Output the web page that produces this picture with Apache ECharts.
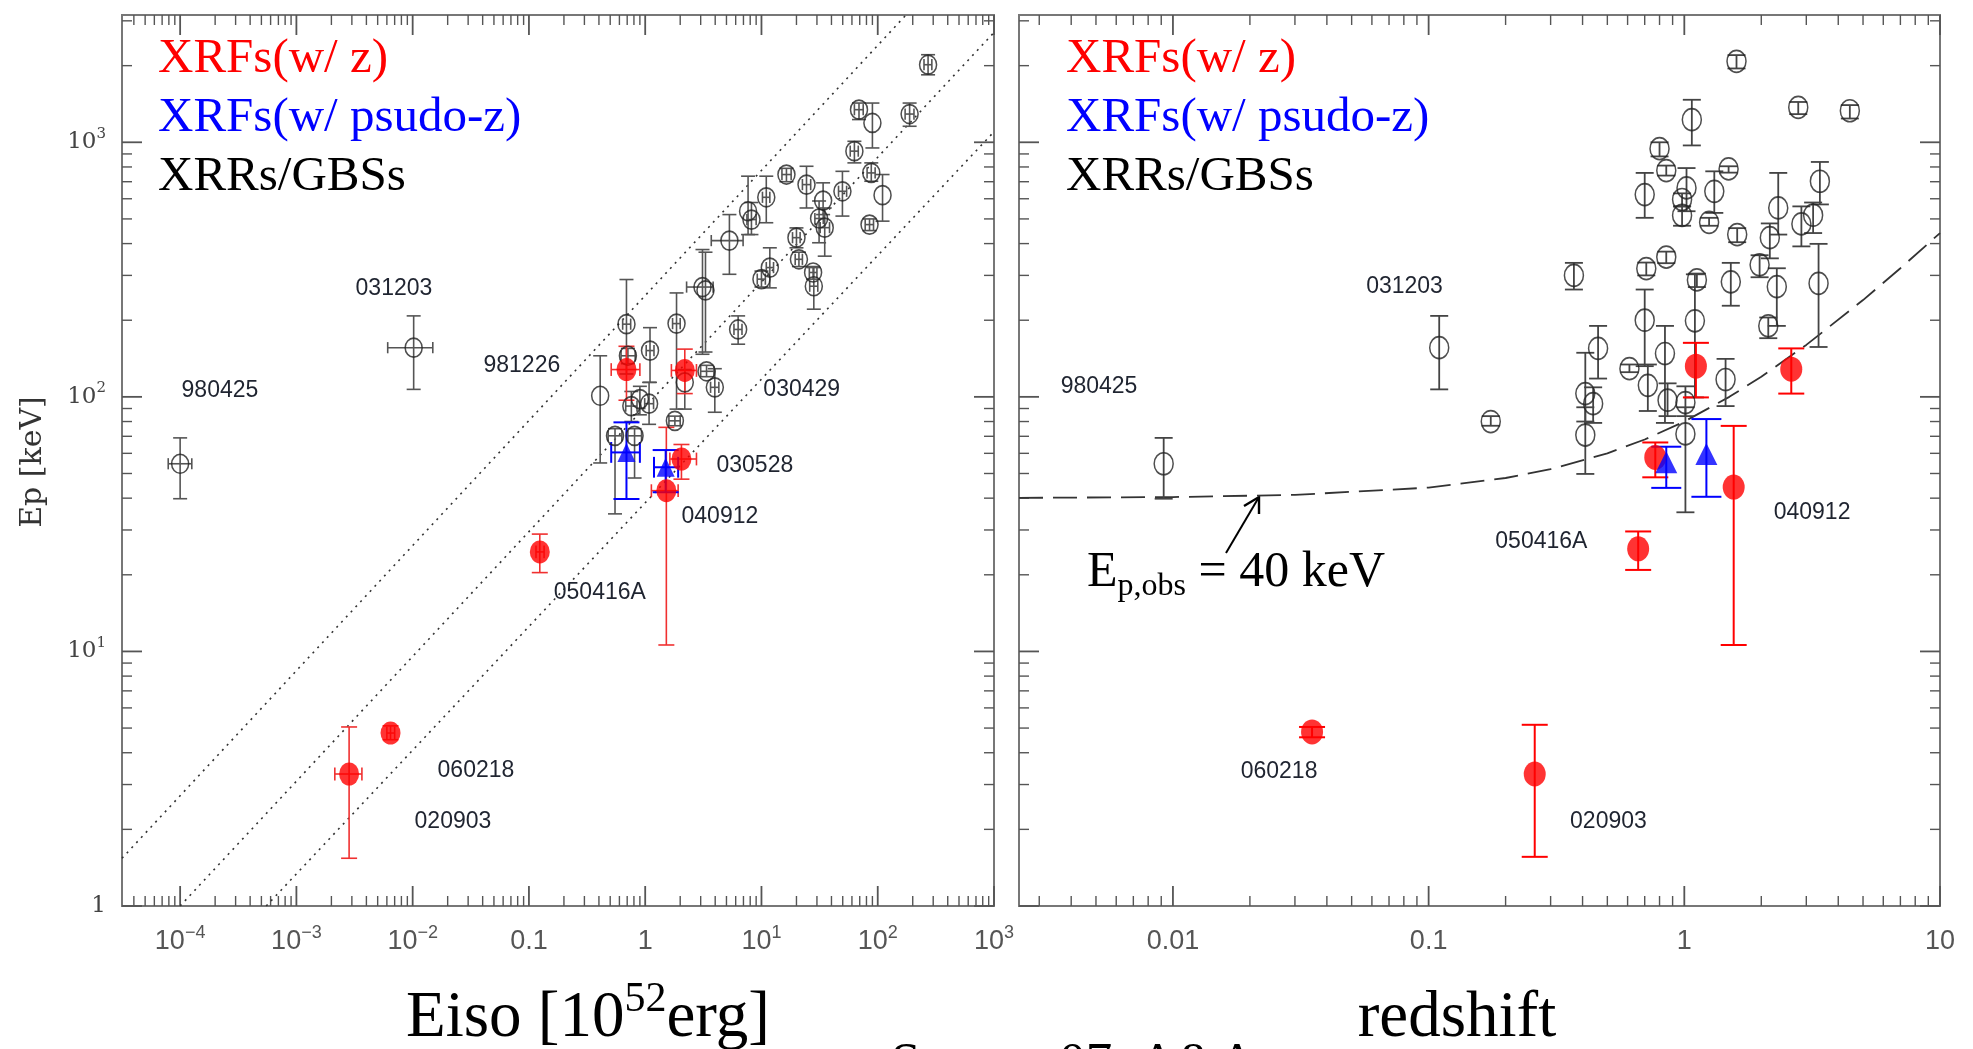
<!DOCTYPE html>
<html>
<head>
<meta charset="utf-8">
<title>Ep - Eiso / redshift</title>
<script src="https://cdn.jsdelivr.net/npm/echarts@6/dist/echarts.min.js"></script>
<style>
  html, body { margin: 0; padding: 0; background: #fff; }
  #main { width: 1973px; height: 1049px; }
</style>
</head>
<body>
<div id="main"></div>
<script>
// axis ranges
const EISO_MIN = Math.pow(10, -4.5), EISO_MAX = 1000
const Z_MIN = 0.0025, Z_MAX = 10
const EP_MIN = 1, EP_MAX = Math.pow(10, 3.5)

// tick values and their labels ('a^b' = superscript)
const eisoTicks = [1e-4, 1e-3, 1e-2, 0.1, 1, 10, 100, 1000]
const eisoTickLabels = ['10^−4', '10^−3', '10^−2', '0.1', '1', '10^1', '10^2', '10^3']
const zTicks = [0.01, 0.1, 1, 10]
const zTickLabels = ['0.01', '0.1', '1', '10']
const epTicks = [1, 10, 100, 1000]
const epTickLabels = ['1', '10^1', '10^2', '10^3']

// left panel: [Eiso, Ep, Ep low, Ep high, Eiso low, Eiso high]
const xrfEiso = [
  [0.69, 128, 97, 158, 0.51, 0.90],
  [2.19, 127, 103, 154, 1.68, 2.76],
  [2.05, 57, 47.5, 65, 1.63, 2.76],
  [1.52, 42.8, 10.6, 75.9, 1.13, 1.92],
  [0.124, 24.6, 20.4, 28.9, 0.115, 0.135],
  [0.00645, 4.78, 4.5, 5.1, 0.0060, 0.0070],
  [0.00284, 3.30, 1.54, 5.05, 0.00214, 0.00366]
]
const xrfPseudoEiso = [
  [0.69, 60.5, 39.7, 79.4, 0.51, 0.90],
  [1.50, 52.9, 42.2, 61.8, 1.19, 1.92]
]
const xrrEiso = [
  [1.0e-4, 54.6, 39.8, 69, 0.79e-4, 1.26e-4],
  [0.0102, 156, 107, 208, 0.0061, 0.0149],
  [271, 2017, 1841, 2208, 250, 292],
  [69, 1343, 1228, 1426, 63, 75],
  [90, 1191, 950, 1426, null, null],
  [188, 1291, 1156, 1426, 172, 205],
  [63, 923, 830, 1009, 58, 68],
  [88, 758, 703, 830, 81, 95],
  [16.4, 747, 700, 790, 15, 18],
  [24.4, 682, 552, 805, 22.5, 26.5],
  [49.7, 642, 513, 769, 46, 54],
  [110, 620, 490, 747, null, null],
  [11, 608, 483, 736, 10.2, 11.8],
  [33.9, 590, 520, 693, null, null],
  [31.3, 502, 403, 588, 28.8, 34],
  [35, 462, 357, 552, 32, 38.5],
  [7.67, 536, 434, 736, null, null],
  [8.2, 497, 434, 580, 7.5, 9],
  [85, 475, 450, 500, 78, 92],
  [20, 422, 385, 461, 18.5, 21.5],
  [5.3, 411, 303, 520, 3.7, 6.95],
  [11.8, 322, 268, 385, 11, 12.7],
  [10, 290, 270, 312, 9.2, 10.8],
  [21, 347, 325, 370, 19.5, 22.5],
  [27.8, 308, 290, 325, 25.8, 30],
  [28.2, 272, 221, 322, 26, 30.5],
  [3.11, 270, 147, 379, 2.27, 3.84],
  [3.3, 262, 150, 370, null, null],
  [6.3, 184, 161, 208, 5.8, 6.8],
  [1.86, 194, 89.5, 256, 1.72, 2.0],
  [0.69, 193, 123, 289, 0.64, 0.75],
  [1.10, 152, 114, 187, 1.02, 1.19],
  [0.71, 145, 135, 155, 0.62, 0.82],
  [3.37, 126, 120, 133, 3.0, 3.9],
  [3.97, 109, 87, 129, 3.65, 4.3],
  [2.19, 114, 89.5, 128, null, null],
  [0.41, 101, 55, 145, null, null],
  [0.76, 92, 80, 105, 0.68, 0.85],
  [1.08, 94, 78, 114, 0.99, 1.18],
  [0.9, 98, 85, 110, null, null],
  [1.80, 80.5, 77, 84, 1.6, 2.0],
  [0.55, 70.3, 34.7, 75, 0.48, 0.63],
  [0.81, 70.3, 48, 75, 0.71, 0.93]
]

// right panel: [z, Ep, Ep low, Ep high]
const xrfZ = [
  [1.11, 132, 99.5, 163],
  [2.62, 128.5, 103, 155],
  [0.77, 57.8, 48.3, 66.2],
  [1.56, 44.2, 10.6, 76.9],
  [0.66, 25.3, 20.9, 29.6],
  [0.035, 4.83, 4.6, 5.05],
  [0.26, 3.30, 1.56, 5.15]
]
const xrfPseudoZ = [
  [0.85, 55.3, 43.9, 63.7],
  [1.22, 59.6, 40.5, 81.8]
]
const xrrZ = [
  [0.0092, 54.6, 39.8, 69],
  [0.11, 156, 107, 208],
  [0.175, 80, 77, 84],
  [1.60, 2080, 1950, 2200],
  [1.07, 1227, 972, 1469],
  [2.79, 1371, 1290, 1440],
  [4.44, 1330, 1240, 1400],
  [0.80, 944, 880, 1000],
  [0.85, 774, 740, 810],
  [1.02, 662, 536, 792],
  [1.31, 642, 528, 769],
  [1.49, 786, 760, 805],
  [0.70, 623, 505, 758],
  [0.98, 596, 560, 630],
  [0.98, 516, 470, 560],
  [1.25, 485, 470, 505],
  [1.61, 434, 405, 460],
  [2.33, 552, 434, 758],
  [3.39, 703, 570, 837],
  [2.87, 478, 390, 560],
  [3.19, 517, 440, 580],
  [2.16, 422, 350, 480],
  [1.97, 330, 295, 360],
  [2.30, 271, 190, 320],
  [3.35, 279, 157, 399],
  [2.13, 190, 170, 205],
  [1.52, 283, 228, 336],
  [1.12, 288, 270, 305],
  [0.85, 354, 335, 372],
  [0.71, 319, 300, 337],
  [0.37, 300, 264, 336],
  [0.70, 200, 132, 264],
  [1.10, 199, 99.5, 303],
  [0.84, 148, 79, 190],
  [0.46, 155, 118, 190],
  [0.61, 129, 125, 134],
  [0.72, 111, 88, 134],
  [1.45, 117, 92, 141],
  [0.86, 97, 84, 113],
  [1.01, 95, 84, 110],
  [0.41, 103, 80, 149],
  [0.44, 94, 79, 109],
  [0.41, 70.8, 49.8, 91],
  [1.01, 71.5, 35.2, 91]
]

// dotted Ep-Eiso bands (end points)
const bandUpper = [[EISO_MIN, 1.54], [175, EP_MAX]]
const bandMiddle = [[1.0e-4, 1], [1000, 2700]]
const bandLower = [[5.5e-4, 1], [1000, 1100]]

// Ep,obs = 40 keV curve
const limitZ = [0.0025, 0.01, 0.03, 0.1, 0.2, 0.3, 0.5, 0.7, 1, 1.5, 2, 3, 5, 7, 10]
const limitEp = [40.1, 40.4, 41.2, 44, 48, 52, 60, 68, 80, 100, 120, 160, 240, 320, 440]

// burst names and where they sit
const leftNames = ['980425', '031203', '981226', '030429', '030528', '040912', '050416A', '060218', '020903']
const leftNamePos = [[2.2e-4, 106], [0.0069, 267], [0.0869, 133], [22.2, 107], [8.77, 53.6], [4.39, 33.8], [0.407, 17.0], [0.035, 3.41], [0.0222, 2.14]]
const rightNames = ['980425', '031203', '050416A', '040912', '060218', '020903']
const rightNamePos = [[0.00514, 110], [0.0805, 270], [0.276, 27], [3.16, 35.1], [0.026, 3.38], [0.505, 2.15]]

const pad = rows => rows.map(r => [r[0], r[1], r[2], r[3], r[4] ?? null, r[5] ?? null])
const xy = rows => rows.map(r => [r[0], r[1]])

function richLabel(s) {
  const i = s.indexOf('^')
  return i < 0 ? '{m|' + s + '}' : '{m|' + s.slice(0, i) + '}{s|' + s.slice(i + 1) + '}'
}

function errorBars(capHalf, color, width) {
  return function (params, api) {
    const x = api.value(0), y = api.value(1)
    const c = api.coord([x, y])
    const st = { stroke: color, lineWidth: width, fill: null }
    const kids = []
    const seg = (x1, y1, x2, y2) => kids.push({ type: 'line', shape: { x1, y1, x2, y2 }, style: st })
    const lo = api.value(2), hi = api.value(3)
    if (isFinite(lo) && isFinite(hi)) {
      const pLo = api.coord([x, lo]), pHi = api.coord([x, hi])
      seg(c[0], pLo[1], c[0], pHi[1])
      seg(c[0] - capHalf, pLo[1], c[0] + capHalf, pLo[1])
      seg(c[0] - capHalf, pHi[1], c[0] + capHalf, pHi[1])
    }
    const xl = api.value(4), xh = api.value(5)
    if (isFinite(xl) && isFinite(xh) && xl > 0) {
      const pL = api.coord([xl, y]), pH = api.coord([xh, y])
      seg(pL[0], c[1], pH[0], c[1])
      seg(pL[0], c[1] - capHalf * 0.8, pL[0], c[1] + capHalf * 0.8)
      seg(pH[0], c[1] - capHalf * 0.8, pH[0], c[1] + capHalf * 0.8)
    }
    return { type: 'group', children: kids }
  }
}

function minorTicks(min, max) {
  const out = []
  for (let d = Math.floor(Math.log10(min)); d <= Math.ceil(Math.log10(max)); d++) {
    for (let m = 2; m <= 9; m++) {
      const v = m * Math.pow(10, d)
      if (v > min && v < max) out.push(v)
    }
  }
  return out
}

function tickDefs(xMaj, xLab, xMin, xMax, yLab) {
  const defs = []
  xMaj.forEach((v, i) => defs.push({ axis: 'x', v, major: true, label: xLab[i] }))
  minorTicks(xMin, xMax).forEach(v => defs.push({ axis: 'x', v, major: false }))
  epTicks.forEach((v, i) => defs.push({ axis: 'y', v, major: true, label: yLab ? epTickLabels[i] : null }))
  minorTicks(EP_MIN, EP_MAX).forEach(v => defs.push({ axis: 'y', v, major: false }))
  return defs
}

const xFont = { m: { fontSize: 27, fontFamily: 'Liberation Sans', fill: '#555', lineHeight: 36 },
  s: { fontSize: 18, fontFamily: 'Liberation Sans', fill: '#555', verticalAlign: 'top', lineHeight: 18 } }
const yFont = { m: { fontSize: 23, fontFamily: 'DejaVu Serif', fill: '#444', lineHeight: 32 },
  s: { fontSize: 15, fontFamily: 'DejaVu Serif', fill: '#444', verticalAlign: 'top', lineHeight: 15 } }

function tickRenderer(defs) {
  return function (params, api) {
    const d = defs[params.dataIndex]
    const cs = params.coordSys
    const p = api.coord([api.value(0), api.value(1)])
    const len = d.major ? 20 : 10
    const st = { stroke: '#555', lineWidth: d.major ? 1.8 : 1.4 }
    const kids = []
    const seg = (x1, y1, x2, y2) => kids.push({ type: 'line', shape: { x1, y1, x2, y2 }, style: st })
    if (d.axis === 'x') {
      const b = cs.y + cs.height, t = cs.y
      seg(p[0], b, p[0], b - len)
      seg(p[0], t, p[0], t + len)
      if (d.label) kids.push({ type: 'text', x: p[0], y: b + 36,
        style: { text: richLabel(d.label), rich: xFont, align: 'center', verticalAlign: 'middle' } })
    } else {
      const l = cs.x, r = cs.x + cs.width
      seg(l, p[1], l + len, p[1])
      seg(r, p[1], r - len, p[1])
      if (d.label) kids.push({ type: 'text', x: l - 16, y: p[1],
        style: { text: richLabel(d.label), rich: yFont, align: 'right', verticalAlign: 'middle' } })
    }
    return { type: 'group', children: kids }
  }
}

function nameRenderer(names) {
  return function (params, api) {
    const p = api.coord([api.value(0), api.value(1)])
    return { type: 'text', x: p[0], y: p[1],
      style: { text: names[params.dataIndex], fill: '#1f2430', fontSize: 23, fontFamily: 'Liberation Sans',
        align: 'center', verticalAlign: 'middle' } }
  }
}

const leftTicks = tickDefs(eisoTicks, eisoTickLabels, EISO_MIN, EISO_MAX, true)
const rightTicks = tickDefs(zTicks, zTickLabels, Z_MIN, Z_MAX, false)
const tickData = (defs, xMin) => defs.map(d => d.axis === 'x' ? [d.v, EP_MIN] : [xMin, d.v])

const chart = echarts.init(document.getElementById('main'))

const hidden = { axisLine: { show: false }, axisTick: { show: false }, axisLabel: { show: false }, splitLine: { show: false } }
const serif = 'Liberation Serif'

const option = {
  animation: false,
  backgroundColor: '#fff',
  grid: [
    { left: 122, top: 15, width: 872, height: 891, show: true, borderColor: '#777', borderWidth: 2 },
    { left: 1019, top: 15, width: 921, height: 891, show: true, borderColor: '#777', borderWidth: 2 }
  ],
  xAxis: [
    { type: 'log', gridIndex: 0, min: EISO_MIN, max: EISO_MAX, ...hidden },
    { type: 'log', gridIndex: 1, min: Z_MIN, max: Z_MAX, ...hidden }
  ],
  yAxis: [
    { type: 'log', gridIndex: 0, min: EP_MIN, max: EP_MAX, ...hidden },
    { type: 'log', gridIndex: 1, min: EP_MIN, max: EP_MAX, ...hidden }
  ],
  series: [
    // frame ticks and tick labels
    { type: 'custom', xAxisIndex: 0, yAxisIndex: 0, data: tickData(leftTicks, EISO_MIN), renderItem: tickRenderer(leftTicks), z: 1, silent: true },
    { type: 'custom', xAxisIndex: 1, yAxisIndex: 1, data: tickData(rightTicks, Z_MIN), renderItem: tickRenderer(rightTicks), z: 1, silent: true },

    // dotted bands
    ...[bandUpper, bandMiddle, bandLower].map(b => ({
      type: 'line', xAxisIndex: 0, yAxisIndex: 0, data: b, showSymbol: false, z: 2,
      lineStyle: { color: '#333', width: 1.6, type: [2, 5] }
    })),
    // Ep,obs = 40 keV
    { type: 'line', xAxisIndex: 1, yAxisIndex: 1, data: limitZ.map((z, i) => [z, limitEp[i]]), showSymbol: false, z: 2,
      lineStyle: { color: '#333', width: 1.8, type: [24, 10] } },

    // error bars
    { type: 'custom', xAxisIndex: 0, yAxisIndex: 0, data: pad(xrrEiso), renderItem: errorBars(7, '#555', 1.6), z: 3 },
    { type: 'custom', xAxisIndex: 0, yAxisIndex: 0, data: pad(xrfEiso), renderItem: errorBars(8, '#f03030', 1.6), z: 3 },
    { type: 'custom', xAxisIndex: 0, yAxisIndex: 0, data: pad(xrfPseudoEiso), renderItem: errorBars(13, '#0000ff', 2), z: 3 },
    { type: 'custom', xAxisIndex: 1, yAxisIndex: 1, data: pad(xrrZ), renderItem: errorBars(9, '#444', 1.8), z: 3 },
    { type: 'custom', xAxisIndex: 1, yAxisIndex: 1, data: pad(xrfZ), renderItem: errorBars(13, '#ff0000', 2), z: 3 },
    { type: 'custom', xAxisIndex: 1, yAxisIndex: 1, data: pad(xrfPseudoZ), renderItem: errorBars(15, '#0000ff', 2), z: 3 },

    // markers
    { name: 'XRRs/GBSs', type: 'scatter', xAxisIndex: 0, yAxisIndex: 0, data: xy(xrrEiso), symbol: 'circle', symbolSize: [17, 19], z: 4,
      itemStyle: { color: 'rgba(0,0,0,0)', borderColor: '#222', borderWidth: 1.6 } },
    { name: 'XRFs(w/ z)', type: 'scatter', xAxisIndex: 0, yAxisIndex: 0, data: xy(xrfEiso), symbol: 'circle', symbolSize: [20, 23], z: 4,
      itemStyle: { color: '#ff0000' } },
    { name: 'XRFs(w/ psudo-z)', type: 'scatter', xAxisIndex: 0, yAxisIndex: 0, data: xy(xrfPseudoEiso), symbol: 'triangle', symbolSize: [18, 19], z: 4,
      itemStyle: { color: '#0000ff' } },
    { name: 'XRRs/GBSs', type: 'scatter', xAxisIndex: 1, yAxisIndex: 1, data: xy(xrrZ), symbol: 'circle', symbolSize: [19, 22], z: 4,
      itemStyle: { color: 'rgba(0,0,0,0)', borderColor: '#222', borderWidth: 1.6 } },
    { name: 'XRFs(w/ z)', type: 'scatter', xAxisIndex: 1, yAxisIndex: 1, data: xy(xrfZ), symbol: 'circle', symbolSize: [22, 25], z: 4,
      itemStyle: { color: '#ff0000' } },
    { name: 'XRFs(w/ psudo-z)', type: 'scatter', xAxisIndex: 1, yAxisIndex: 1, data: xy(xrfPseudoZ), symbol: 'triangle', symbolSize: [22, 22], z: 4,
      itemStyle: { color: '#0000ff' } },

    // burst names
    { type: 'custom', xAxisIndex: 0, yAxisIndex: 0, data: leftNamePos, renderItem: nameRenderer(leftNames), z: 5, silent: true },
    { type: 'custom', xAxisIndex: 1, yAxisIndex: 1, data: rightNamePos, renderItem: nameRenderer(rightNames), z: 5, silent: true }
  ],
  graphic: [
    // legends (text only)
    ...[158, 1066].flatMap(x => [
      { type: 'text', x, y: 59, style: { text: 'XRFs(w/ z)', fill: '#ff0000', fontSize: 49, fontFamily: serif, verticalAlign: 'middle' } },
      { type: 'text', x, y: 118, style: { text: 'XRFs(w/ psudo-z)', fill: '#0000ff', fontSize: 49, fontFamily: serif, verticalAlign: 'middle' } },
      { type: 'text', x, y: 177, style: { text: 'XRRs/GBSs', fill: '#000', fontSize: 49, fontFamily: serif, verticalAlign: 'middle' } }
    ]),
    // axis titles
    { type: 'text', x: 33, y: 462, rotation: Math.PI / 2,
      style: { text: 'Ep [keV]', fill: '#333', fontSize: 30, fontFamily: 'DejaVu Serif', align: 'center', verticalAlign: 'middle' } },
    { type: 'text', x: 588, y: 1019,
      style: { text: '{a|Eiso [10}{b|52}{a|erg]}', align: 'center', verticalAlign: 'middle',
        rich: { a: { fontSize: 65, fontFamily: serif, fill: '#000', lineHeight: 80 },
                b: { fontSize: 42, fontFamily: serif, fill: '#000', verticalAlign: 'top', lineHeight: 42 } } } },
    { type: 'text', x: 1457, y: 1019,
      style: { text: 'redshift', fill: '#000', fontSize: 65, fontFamily: serif, align: 'center', verticalAlign: 'middle' } },
    // Ep,obs annotation
    { type: 'text', x: 1087, y: 573,
      style: { text: '{a|E}{b|p,obs}{a| = 40 keV}', align: 'left', verticalAlign: 'middle',
        rich: { a: { fontSize: 50, fontFamily: serif, fill: '#000', lineHeight: 60 },
                b: { fontSize: 32, fontFamily: serif, fill: '#000', verticalAlign: 'bottom', lineHeight: 32 } } } },
    { type: 'polyline', shape: { points: [[1226, 553], [1259, 497]] }, style: { stroke: '#000', lineWidth: 2, fill: null } },
    { type: 'polyline', shape: { points: [[1244, 506], [1259, 497], [1259, 514]] }, style: { stroke: '#000', lineWidth: 2.4, fill: null } },
    // source note, cut by the bottom edge
    { type: 'text', x: 891, y: 1039,
      style: { text: 'Stratta+07, A&A', fill: '#000', fontSize: 53, fontFamily: serif, verticalAlign: 'top' } }
  ]
}

chart.setOption(option)
</script>
</body>
</html>
